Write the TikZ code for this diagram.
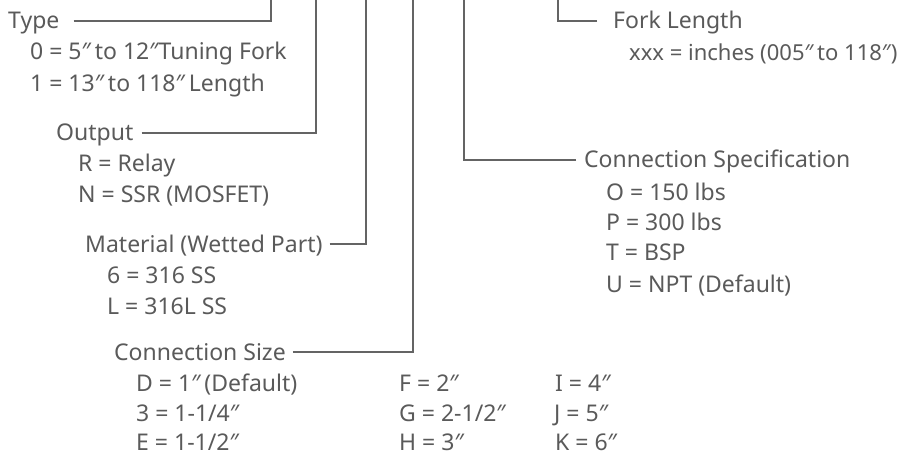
\documentclass[tikz,border=0pt]{standalone}
\usepackage{fontspec}
\setmainfont{Noto Sans}
\definecolor{txtgray}{HTML}{5A5A5A}
\definecolor{linegray}{HTML}{646464}
\newcommand{\dq}{\char"2033\relax}
\begin{document}
\begin{tikzpicture}[x=1pt,y=-1pt,
  lbl/.style={anchor=base west,inner sep=0pt,text=txtgray,font=\fontsize{23}{27}\selectfont},
  conn/.style={draw=linegray,line width=2.6pt}]
\useasboundingbox[fill=white] (0,0) rectangle (908,455);
% top free ends
\coordinate (cType) at (271,0);
\coordinate (cOut) at (316,0);
\coordinate (cMat) at (366,0);
\coordinate (cSize) at (413,0);
\coordinate (cSpec) at (464,0);
\coordinate (cFork) at (558,0);
% Type
\node[lbl] (type) at (8,28) {Type};
\node[lbl] (t0) at (30,59) {0 = 5\dq\,to 12\dq{}Tuning Fork};
\node[lbl] (t1) at (30,91) {1 = 13\dq\,to 118\dq\,Length};
% Output
\node[lbl] (out) at (56,140) {Output};
\node[lbl] (o1) at (78,171) {R = Relay};
\node[lbl] (o2) at (78,202) {N = SSR (MOSFET)};
% Material
\node[lbl] (mat) at (85,252) {Material (Wetted Part)};
\node[lbl] (m1) at (107,283) {6 = 316 SS};
\node[lbl] (m2) at (107,314) {L = 316L SS};
% Connection size
\node[lbl] (size) at (114,360) {Connection Size};
\node[lbl] (s1) at (136,391) {D = 1\dq\,(Default)};
\node[lbl] (s2) at (136,421) {3 = 1-1/4\dq};
\node[lbl] (s3) at (136,450) {E = 1-1/2\dq};
\node[lbl] (s4) at (399,391) {F = 2\dq};
\node[lbl] (s5) at (399,421) {G = 2-1/2\dq};
\node[lbl] (s6) at (399,450) {H = 3\dq};
\node[lbl] (s7) at (555,391) {I = 4\dq};
\node[lbl] (s8) at (554,421) {J = 5\dq};
\node[lbl] (s9) at (555,450) {K = 6\dq};
% Connection specification
\node[lbl] (spec) at (584,167) {Connection Specification};
\node[lbl] (p1) at (606,200) {O = 150 lbs};
\node[lbl] (p2) at (606,230) {P = 300 lbs};
\node[lbl] (p3) at (606,260) {T = BSP};
\node[lbl] (p4) at (606,292) {U = NPT (Default)};
% Fork length
\node[lbl] (fork) at (613,28) {Fork Length};
\node[lbl,font=\fontsize{22}{26}\selectfont] (f1) at (629,60) {xxx = inches (005\dq\,to 118\dq)};
% connectors
\draw[conn] (type.base east) ++(14,-7) -| (cType);
\draw[conn] (out.base east) ++(8,-7) -| (cOut);
\draw[conn] (mat.base east) ++(7,-8) -| (cMat);
\draw[conn] (size.base east) ++(7,-8) -| (cSize);
\draw[conn] (spec.base west) ++(-8,-7) -| (cSpec);
\draw[conn] (fork.base west) ++(-16,-7) -| (cFork);
\end{tikzpicture}
\end{document}
